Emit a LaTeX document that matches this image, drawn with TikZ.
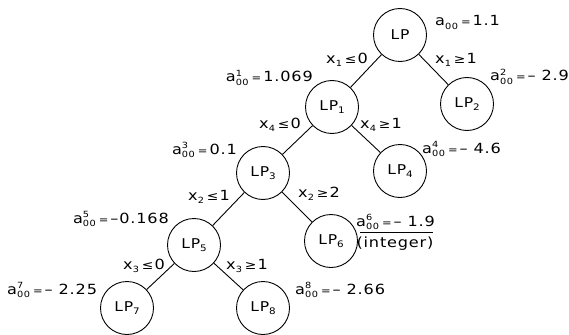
\documentclass[tikz,border=0pt]{standalone}
\usepackage{fontspec}
\setmainfont{DejaVu Sans}[LetterSpace=6,FakeStretch=1.15]
\newcommand\scr[1]{{\fontsize{8.5}{8.5}\selectfont #1}}
\newcommand\aoo[1]{a\makebox[0pt][l]{\raisebox{5.4pt}{\scr{#1}}}\raisebox{-3.9pt}{\scr{00}}}
\newcommand\eqs{\hspace{3pt}{\fontsize{10}{10}\selectfont =}\hspace{2pt}}
\newcommand\val[2]{\aoo{#1}\eqs#2}
\newcommand\xs[1]{x\raisebox{-3pt}{\scr{#1}}}
\newcommand\lpsub[1]{LP\raisebox{-3pt}{{\fontsize{9}{9}\selectfont #1}}}
\newcommand\lle{\hspace{3pt}{\fontsize{12}{12}\selectfont ≤}\hspace{1pt}}
\newcommand\gge{\hspace{3pt}{\fontsize{12}{12}\selectfont ≥}\hspace{1pt}}
\begin{document}
\begin{tikzpicture}[x=1pt,y=-1pt,
  lp/.style={circle,draw,line width=0.9pt,minimum size=53pt,inner sep=0pt,font=\fontsize{13.5}{13.5}\selectfont},
  lbl/.style={font=\fontsize{14}{14}\selectfont,inner sep=0pt},
  edge/.style={line width=0.9pt}]
\useasboundingbox (0,0) rectangle (569,334);
\node[lp] (n0) at (400,35) {LP};
\node[lp] (n1) at (332,107) {\lpsub{1}};
\node[lp] (n2) at (467,104) {\lpsub{2}};
\node[lp] (n3) at (263,173) {\lpsub{3}};
\node[lp] (n4) at (400,171) {\lpsub{4}};
\node[lp] (n5) at (194,245) {\lpsub{5}};
\node[lp] (n6) at (331,241) {\lpsub{6}};
\node[lp] (n7) at (127,308) {\lpsub{7}};
\node[lp] (n8) at (263,308) {\lpsub{8}};
\draw[edge] (n0) -- (n1);
\draw[edge] (n0) -- (n2);
\draw[edge] (n1) -- (n3);
\draw[edge] (n1) -- (n4);
\draw[edge] (n3) -- (n5);
\draw[edge] (n3) -- (n6);
\draw[edge] (n5) -- (n7);
\draw[edge] (n5) -- (n8);
% branch labels
\node[lbl] (b1) at (347,60) {\xs{1}\lle0};
\node[lbl] (b2) at (456,60) {\xs{1}\gge1};
\node[lbl] (b3) at (280,125) {\xs{4}\lle0};
\node[lbl] (b4) at (381,125) {\xs{4}\gge1};
\node[lbl] (b5) at (209,197) {\xs{2}\lle1};
\node[lbl] (b6) at (319,194) {\xs{2}\gge2};
\node[lbl] (b7) at (144,266) {\xs{3}\lle0};
\node[lbl] (b8) at (247,266) {\xs{3}\gge1};
% values
\node[lbl,anchor=base west] (v0) at (435,26) {\val{}{1.1}};
\node[lbl,anchor=base east] (v1) at (313,82) {\val{1}{1.069}};
\node[lbl,anchor=base west] (v2) at (490,81) {\val{2}{– 2.9}};
\node[lbl,anchor=base east] (v3) at (237,154) {\val{3}{0.1}};
\node[lbl,anchor=base west] (v4) at (422,153) {\val{4}{– 4.6}};
\node[lbl,anchor=base east] (v5) at (169,223) {\val{5}{–0.168}};
\node[lbl,anchor=base west] (v6) at (356,226) {\val{6}{– 1.9}};
\node[lbl] (v6b) at (395,244) {(integer)};
\coordinate (f1) at (360,232);
\coordinate (f2) at (433,232);
\draw[line width=0.7pt] (f1) -- (f2);
\node[lbl,anchor=base west] (v7) at (7,294) {\val{7}{– 2.25}};
\node[lbl,anchor=base west] (v8) at (295,294) {\val{8}{– 2.66}};
\end{tikzpicture}
\end{document}
